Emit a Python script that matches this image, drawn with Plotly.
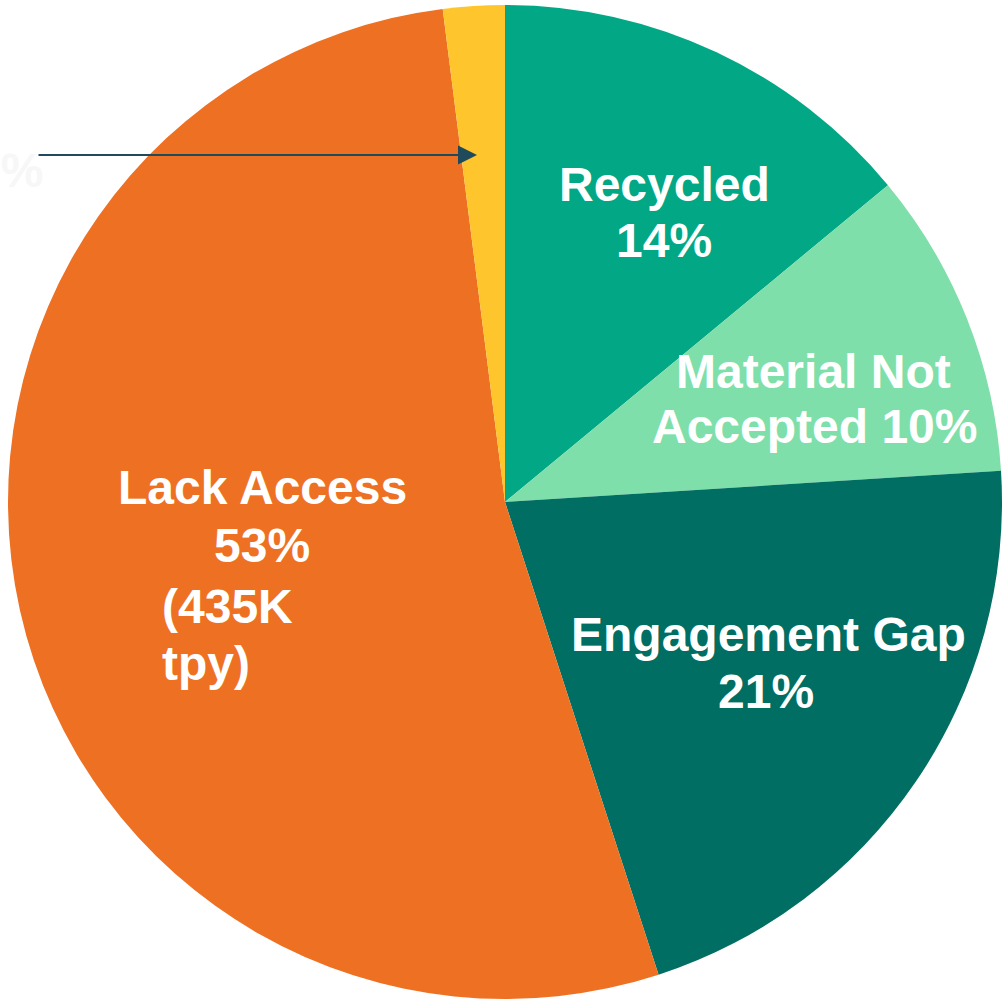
import plotly.graph_objects as go

W, H = 1005, 1001

# Share of material by outcome, clockwise from 12 o'clock
categories = ["Recycled", "Material Not Accepted", "Engagement Gap", "Lack Access", "Other"]
shares = [14, 10, 21, 53, 2]
colors = ["#02A886", "#7EDFAA", "#006E62", "#EE7123", "#FFC52C"]
lack_access_tonnage = "435K"


def px(x):
    return x / W


def py(y):
    return 1 - y / H


fig = go.Figure(
    go.Pie(
        labels=categories,
        values=shares,
        marker=dict(colors=colors, line=dict(width=0)),
        sort=False,
        direction="clockwise",
        rotation=0,
        textinfo="none",
        hoverinfo="label+percent",
        domain=dict(x=[px(8), px(1002)], y=[py(999), py(5)]),
        showlegend=False,
    )
)

font = dict(family="Liberation Sans, Arial, sans-serif", size=48, color="white")
pct = {c: f"{v}%" for c, v in zip(categories, shares)}

# label lines: (text, x centre px, y centre px, anchor)
lines = [
    ("Recycled", 664, 185, "center"),
    (pct["Recycled"], 664, 240, "center"),
    ("Material Not", 813, 371, "center"),
    (f"Accepted {pct['Material Not Accepted']}", 814, 426, "center"),
    ("Engagement Gap", 768, 634, "center"),
    (pct["Engagement Gap"], 766, 691, "center"),
    ("Lack Access", 262, 488, "center"),
    (pct["Lack Access"], 262, 545, "center"),
    (f"({lack_access_tonnage}", 160, 606, "left"),
    ("tpy)", 160, 663, "left"),
]

annotations = []
for text, x, y, anchor in lines:
    annotations.append(
        dict(
            text=f"<b>{text}</b>",
            x=px(x),
            y=py(y),
            xref="paper",
            yref="paper",
            xanchor=anchor,
            yanchor="middle",
            showarrow=False,
            font=font,
        )
    )

# faint callout label for the small slice, running off the left edge
annotations.append(
    dict(
        text=f"<b>{pct['Other']}</b>",
        x=px(45),
        y=py(170),
        xref="paper",
        yref="paper",
        xanchor="right",
        yanchor="middle",
        showarrow=False,
        font=dict(family="Liberation Sans, Arial, sans-serif", size=48, color="#F7F7F7"),
    )
)

# pointer to the small slice
annotations.append(
    dict(
        x=px(477),
        y=py(155),
        ax=-(477 - 37),
        ay=0,
        xref="paper",
        yref="paper",
        axref="pixel",
        ayref="pixel",
        text="",
        showarrow=True,
        arrowhead=2,
        arrowsize=1.9,
        arrowwidth=2,
        arrowcolor="#1E4A5C",
    )
)

fig.update_layout(
    width=W,
    height=H,
    margin=dict(l=0, r=0, t=0, b=0),
    paper_bgcolor="white",
    plot_bgcolor="white",
    annotations=annotations,
)

fig.write_html("out.html")
